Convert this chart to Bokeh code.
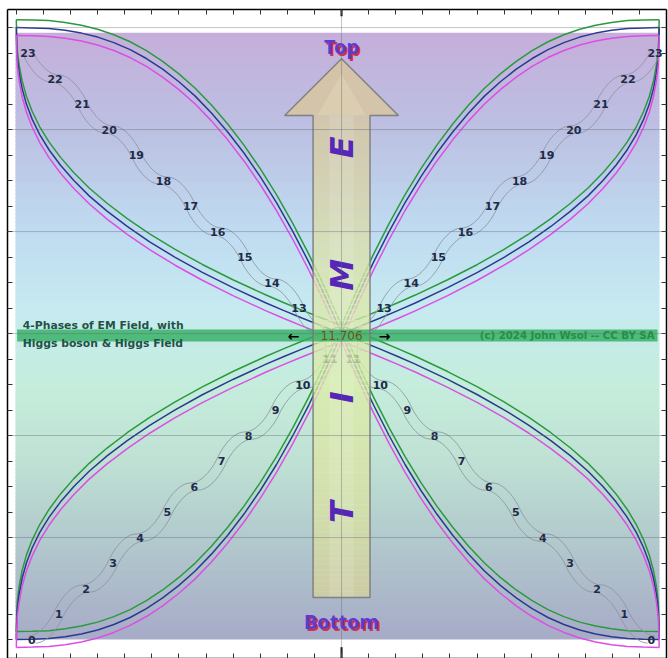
import numpy as np
from bokeh.plotting import figure
from bokeh.models import Range1d, LinearAxis, FixedTicker, Span
from bokeh.embed import file_html
from bokeh.resources import INLINE
from bokeh.core.properties import value

# ------------------------------------------------------------------ data
steps = list(range(24))                 # step numbers along the two paths
hidden_steps = [12]                     # sits under the centre read-out
step_apex = 11.43                       # step where each path reaches the centre line
centre_readout = "11.706"

# one petal branch, normalised:
# u = |x| / half_span, v = |y - mid_level| / half_span
petal_u = [0.0, 0.025, 0.05, 0.075, 0.10, 0.15, 0.20, 0.25, 0.30, 0.35, 0.40, 0.45,
           0.50, 0.55, 0.60, 0.65, 0.70, 0.75, 0.80, 0.85, 0.90, 0.95, 1.0]
petal_v = [0.0, 0.061, 0.120, 0.177, 0.232, 0.334, 0.428, 0.513, 0.590, 0.659, 0.721, 0.776,
           0.823, 0.864, 0.899, 0.928, 0.951, 0.969, 0.982, 0.991, 0.997, 0.999, 1.0]
half_span_left = 12.0
half_span_right = 11.72
half_span_y = 12.0
mid_level = 12.0

phase_colors = ["#2a9a3c", "#2b3a8e", "#dc4ee4"]   # green, navy, magenta
phase_shift = [0.31, 0.0, -0.31]

time_letters = ["T", "I", "M", "E"]
time_levels = [5.0, 9.5, 14.3, 19.3]

grid_levels = [4, 8, 12, 16, 20, 24]
x_ticks = list(range(-12, 13))
y_ticks = list(range(0, 25))

left_note = ["4-Phases of EM Field, with", "Higgs boson & Higgs Field"]
credit = "(c) 2024 John Wsol -- CC BY SA"

# ------------------------------------------------------------------ helpers
def hex2rgb(h):
    return np.array([int(h[i:i + 2], 16) for i in (1, 3, 5)], float)


def ramp(levels, stops_y, stops_c):
    cols = np.array([hex2rgb(c) for c in stops_c])
    out = []
    for lv in levels:
        r = [np.interp(lv, stops_y, cols[:, k]) for k in range(3)]
        out.append("#%02x%02x%02x" % tuple(int(round(c)) for c in r))
    return out


FONT = value("DejaVu Sans")

p = figure(width=668, height=658, x_range=Range1d(-12.325, 11.99), y_range=Range1d(-0.745, 24.71),
           output_backend="svg", toolbar_location=None,
           min_border_left=7, min_border_top=9, min_border_right=2, min_border_bottom=0,
           x_axis_location=None, y_axis_location=None)
p.xgrid.visible = False
p.ygrid.visible = False
p.outline_line_color = None
p.background_fill_color = "white"
p.border_fill_color = "white"

for loc, tks in [("above", x_ticks), ("below", x_ticks), ("left", y_ticks), ("right", y_ticks)]:
    ax = LinearAxis(ticker=FixedTicker(ticks=tks), major_tick_in=5, major_tick_out=0,
                    minor_tick_in=0, minor_tick_out=0, major_label_text_font_size="0px",
                    major_label_text_color=None, major_label_standoff=0,
                    axis_line_color="black", axis_line_width=1.5,
                    major_tick_line_color="#333333")
    p.add_layout(ax, loc)

# ------------------------------------------------------------------ background gradient
bg_top = 23.8
nstrip = 150
edges = np.linspace(0, bg_top, nstrip + 1)
mids = 0.5 * (edges[:-1] + edges[1:])
bg_cols = ramp(mids, [0, 4, 7, 10, 13, 16, 20, 23.8],
               ["#a7abc7", "#b2cacd", "#bfe1d4", "#c5eddc", "#c6eaf0", "#bfdbf1", "#bcc0e2", "#c5afda"])
p.quad(left=-12.03, right=11.73, bottom=edges[:-1], top=np.minimum(edges[1:] + 0.06, bg_top),
       fill_color=bg_cols, line_color=None)

# ------------------------------------------------------------------ field curves
u = np.array(petal_u)
v = np.array(petal_v)
ax_l = np.concatenate([-half_span_left * u[::-1], half_span_right * u[1:]])
ax_r = np.concatenate([half_span_right * u[::-1], -half_span_left * u[1:]])
ay_ = np.concatenate([mid_level + half_span_y * v[::-1], mid_level - half_span_y * v[1:]])
bx_l = np.concatenate([-half_span_left * v[::-1], half_span_right * v[1:]])
bx_r = np.concatenate([half_span_right * v[::-1], -half_span_left * v[1:]])
by_ = np.concatenate([mid_level + half_span_y * u[::-1], mid_level - half_span_y * u[1:]])
for col, dy in zip(phase_colors, phase_shift):
    xs_list, ys_list = [], []
    for xs, ys in [(ax_l, ay_), (ax_r, ay_), (bx_l, by_), (bx_r, by_)]:
        xs_list.append(list(xs))
        ys_list.append(list(ys + dy))
    p.multi_line(xs_list, ys_list, line_color=col, line_width=1.5)

# ------------------------------------------------------------------ step paths (wavy double lines)
d_off = 0.14
for side in (-1, 1):
    lx = [side * abs(n - step_apex) for n in steps]
    ly = [float(n) for n in steps]
    segs = {k: [] for k in ["x0", "y0", "x1", "y1", "cx0", "cy0", "cx1", "cy1"]}
    offs = []
    for i in range(len(steps) - 1):
        xa, ya, xb, yb = lx[i], ly[i], lx[i + 1], ly[i + 1]
        dx, dy = xb - xa, yb - ya
        if steps[i] % 2 == 0:
            c0 = (xa + 0.45 * dx, ya)
            c1 = (xb - 0.15 * dx, yb - 0.35 * dy)
        else:
            c0 = (xa + 0.15 * dx, ya + 0.35 * dy)
            c1 = (xb - 0.45 * dx, yb)
        segs["x0"].append(xa); segs["y0"].append(ya)
        segs["x1"].append(xb); segs["y1"].append(yb)
        segs["cx0"].append(c0[0]); segs["cy0"].append(c0[1])
        segs["cx1"].append(c1[0]); segs["cy1"].append(c1[1])
        offs.append((side * d_off, d_off) if steps[i] < step_apex else (-side * d_off, d_off))
    ox = np.array([o[0] for o in offs])
    oy = np.array([o[1] for o in offs])
    for sgn in (1, -1):
        p.bezier(x0=np.array(segs["x0"]) + sgn * ox, y0=np.array(segs["y0"]) + sgn * oy,
                 x1=np.array(segs["x1"]) + sgn * ox, y1=np.array(segs["y1"]) + sgn * oy,
                 cx0=np.array(segs["cx0"]) + sgn * ox, cy0=np.array(segs["cy0"]) + sgn * oy,
                 cx1=np.array(segs["cx1"]) + sgn * ox, cy1=np.array(segs["cy1"]) + sgn * oy,
                 line_color="#8d939c", line_alpha=0.85, line_width=1)
    shown = [i for i, n in enumerate(steps) if n not in hidden_steps]
    p.text(x=[lx[i] for i in shown], y=[ly[i] for i in shown], text=[str(steps[i]) for i in shown],
           text_font=FONT, text_font_style="bold", text_font_size="11px",
           text_color="#1d2a48", text_align="center", text_baseline="middle")

# ------------------------------------------------------------------ TIME arrow
tip_y, head_y, head_half, shaft_half, shaft_bot = 22.78, 20.55, 2.1, 1.05, 1.65
p.patch([0, head_half, -head_half], [tip_y, head_y, head_y], fill_color="#d7c6a0",
        fill_alpha=0.85, line_color=None)
p.patch([0, 0.9, -0.9], [tip_y - 0.6, head_y, head_y], fill_color="#e4dab8",
        fill_alpha=0.45, line_color=None)
sedges = np.linspace(shaft_bot, head_y, 90)
smids = 0.5 * (sedges[:-1] + sedges[1:])
scols = ramp(smids, [1.65, 5, 10, 14, 17, 20.55],
             ["#d5d19c", "#d9e1a4", "#dbeca9", "#dce6ac", "#d9d6a8", "#d6c8a0"])
p.quad(left=-shaft_half, right=shaft_half, bottom=sedges[:-1], top=np.minimum(sedges[1:] + 0.05, head_y),
       fill_color=scols, fill_alpha=0.74, line_color=None)
p.quad(left=-0.45, right=0.45, bottom=shaft_bot, top=head_y, fill_color="white", fill_alpha=0.12,
       line_color=None)

# green band across the middle
p.quad(left=-11.97, right=11.66, bottom=11.69, top=12.16, fill_color="#2fae5f", fill_alpha=0.8,
       line_color=None)

p.patch([0, head_half, shaft_half, shaft_half, -shaft_half, -shaft_half, -head_half],
        [tip_y, head_y, head_y, shaft_bot, shaft_bot, head_y, head_y],
        fill_color=None, line_color="#7a7a7a", line_width=1.5, line_alpha=0.9)

# grid lines
for lv in grid_levels:
    p.add_layout(Span(location=lv, dimension="width", line_color="#5f6a70", line_alpha=0.4, line_width=1))
p.add_layout(Span(location=0, dimension="height", line_color="#5f6a70", line_alpha=0.4, line_width=1))
p.segment(x0=[0, 0], y0=[24.71, -0.745], x1=[0, 0], y1=[24.45, -0.3], line_color="black", line_width=2)

# ------------------------------------------------------------------ texts
p.text(x=[0] * 4, y=time_levels, text=time_letters, angle=np.pi / 2, text_font=FONT,
       text_font_style="bold italic", text_font_size="32px", text_color="#5526b8",
       text_align="center", text_baseline="middle")

for ylev, word in [(23.25, "Top"), (0.72, "Bottom")]:
    p.text(x=[0], y=[ylev], text=[word], x_offset=2, y_offset=2, text_font=value("Noto Sans"),
           text_font_style="bold", text_font_size="20px", text_color="#d03050",
           text_align="center", text_baseline="middle")
    p.text(x=[0], y=[ylev], text=[word], text_font=value("Noto Sans"), text_font_style="bold",
           text_font_size="20px", text_color="#5a3cd0", text_align="center", text_baseline="middle")

p.text(x=[-11.76, -11.76], y=[12.31, 11.6], text=left_note, text_font=FONT, text_font_style="bold",
       text_font_size="10.8px", text_color="#1f5248", text_align="left", text_baseline="middle")
p.text(x=[11.55], y=[11.92], text=[credit], text_font=FONT, text_font_style="bold",
       text_font_size="10.2px", text_color="#249048", text_align="right", text_baseline="middle")
p.text(x=[0], y=[11.92], text=[centre_readout], text_font=FONT, text_font_size="12px",
       text_color="#6a5518", text_align="center", text_baseline="middle")
p.text(x=[-1.77, 1.59], y=[11.92, 11.92], text=["\u2190", "\u2192"], text_font=FONT,
       text_font_style="bold", text_font_size="14px", text_color="black",
       text_align="center", text_baseline="middle")

open("out.html", "w").write(file_html(p, INLINE))
